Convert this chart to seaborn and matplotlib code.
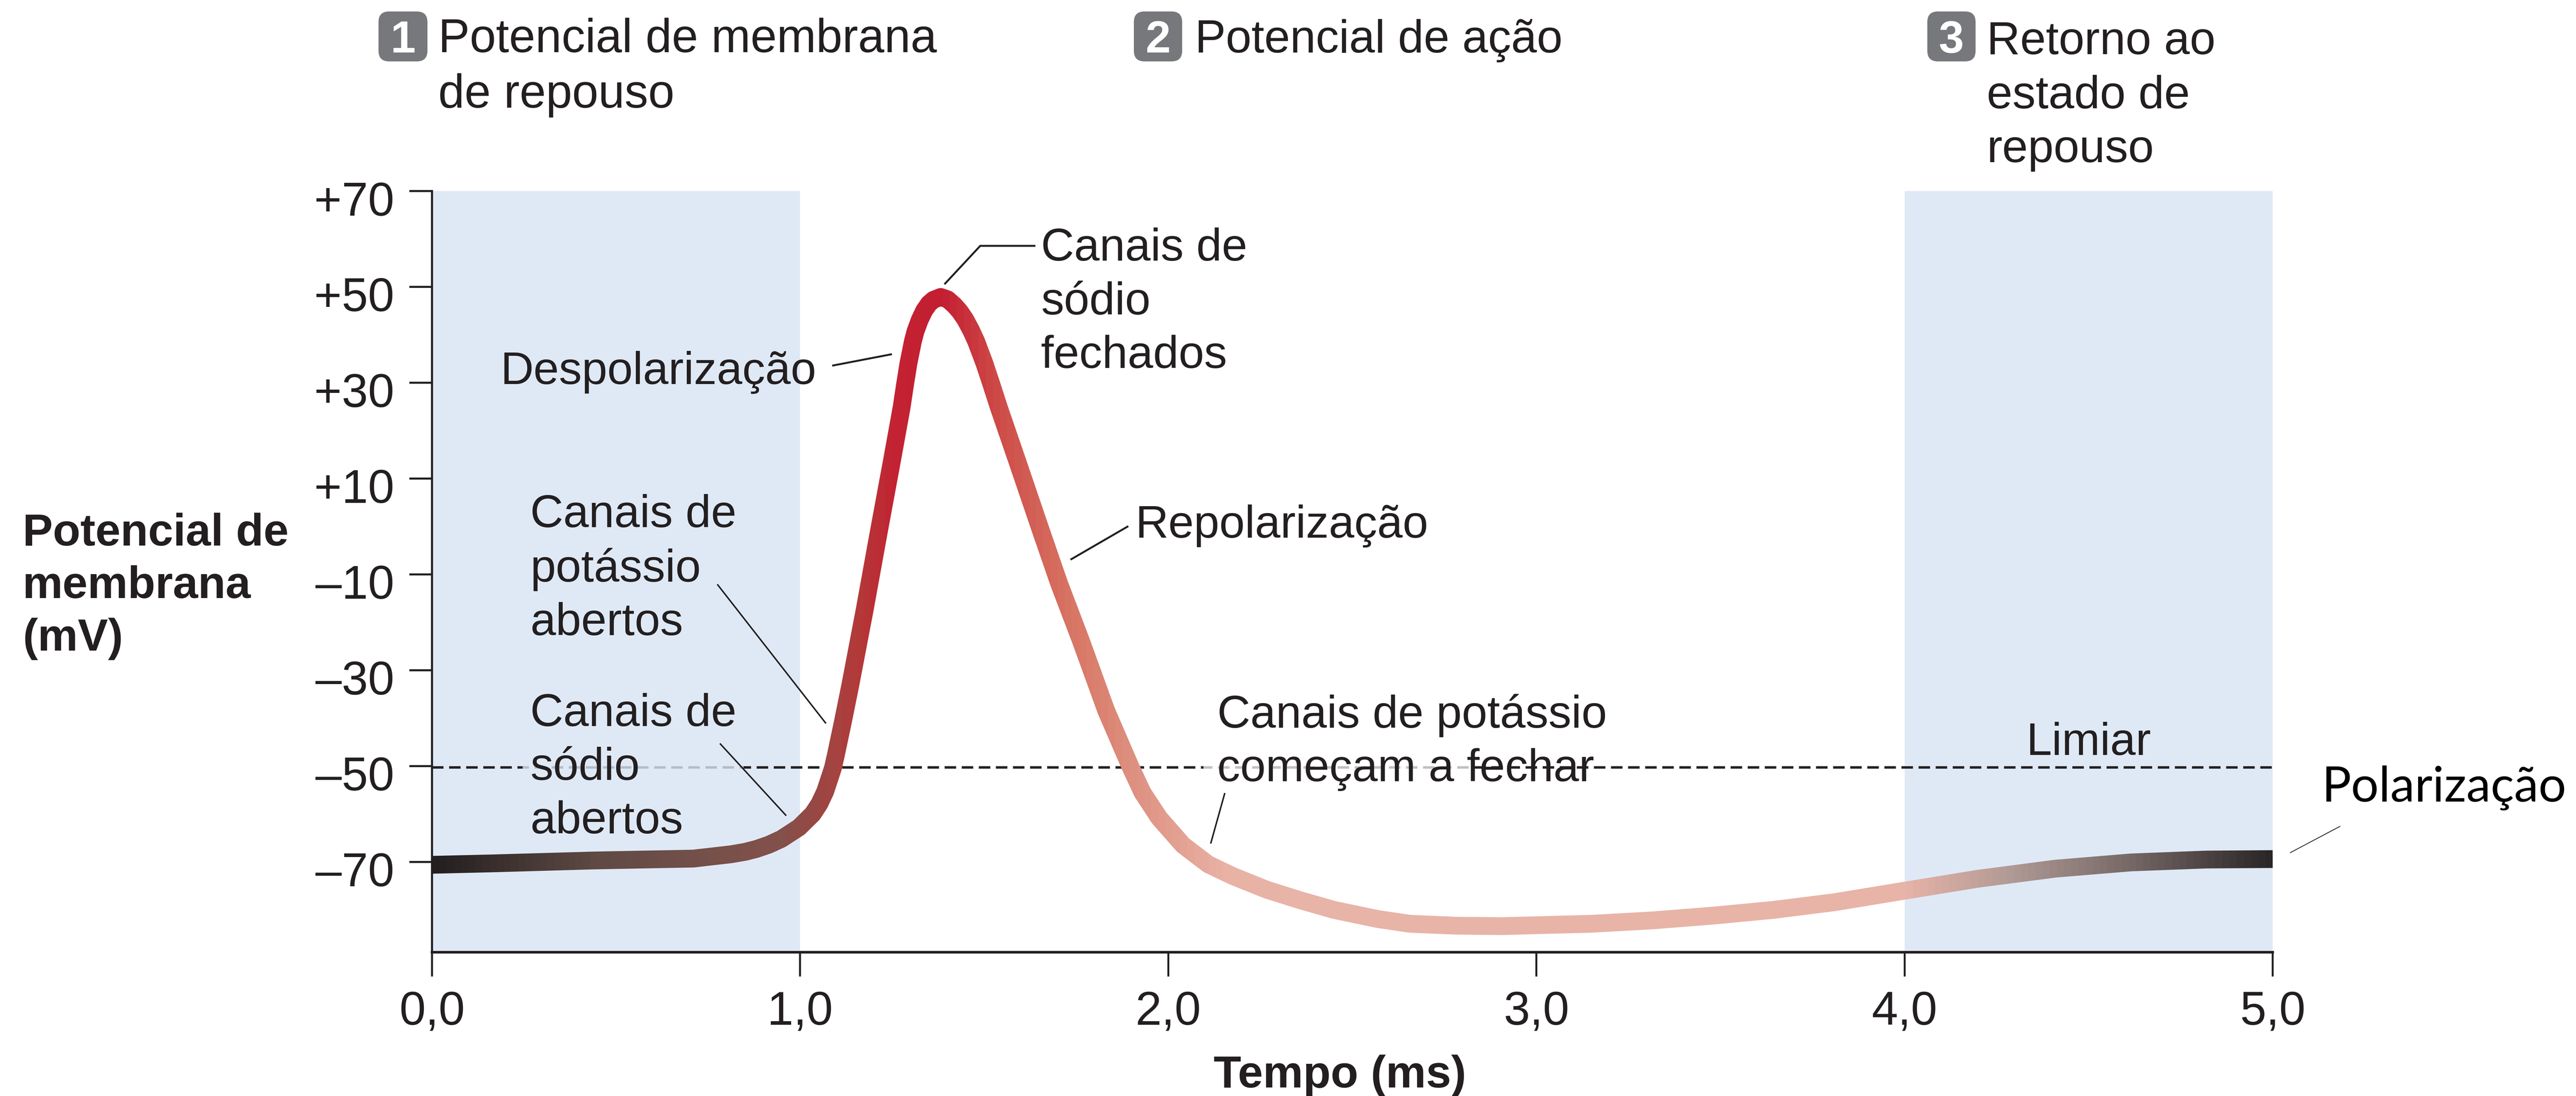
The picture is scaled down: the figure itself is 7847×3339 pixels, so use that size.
import numpy as np
import matplotlib
matplotlib.use("Agg")
import matplotlib.pyplot as plt
import seaborn as sns
from matplotlib.colors import LinearSegmentedColormap
from matplotlib.lines import Line2D
from matplotlib.patches import FancyBboxPatch, Rectangle
from matplotlib.transforms import Affine2D, ScaledTranslation

# --- DATA ---
TIME_MS = [0.0, 0.164, 0.437, 0.71, 0.812, 0.85, 0.881, 0.915, 0.949, 0.997,
           1.034, 1.052, 1.068, 1.089, 1.097, 1.116, 1.136, 1.175, 1.212, 1.25,
           1.2757, 1.2847, 1.2941, 1.3061, 1.3133, 1.3248, 1.3373, 1.35, 1.362, 1.3819,
           1.4007, 1.4185, 1.4335, 1.4486, 1.4646, 1.4783, 1.5008, 1.5202, 1.5395, 1.5904,
           1.6528, 1.704, 1.762, 1.8313, 1.8988, 1.9298, 1.9751, 2.0403, 2.1086, 2.1769,
           2.2677, 2.3587, 2.4496, 2.568, 2.656, 2.78, 2.904, 3.151, 3.315, 3.48,
           3.645, 3.81, 4.0, 4.2, 4.41, 4.615, 4.82, 5.0]
POTENTIAL_MV = [-70.6, -70.3, -69.7, -69.3, -68.4, -67.9, -67.3, -66.4, -65.2, -62.8,
                -60.0, -57.9, -55.3, -50.4, -47.7, -40.8, -33.2, -17.5, -1.8, 14.0,
                24.9, 29.5, 34.0, 38.6, 40.7, 43.1, 45.1, 46.5, 47.3, 47.9,
                47.4, 46.2, 44.9, 43.2, 40.9, 38.6, 34.0, 29.5, 24.9, 13.5,
                -0.6, -12.0, -23.7, -38.4, -50.4, -55.5, -60.8, -66.5, -70.5, -73.0,
                -75.8, -78.0, -80.0, -81.9, -82.9, -83.3, -83.4, -82.9, -82.2, -81.2,
                -80.0, -78.4, -76.0, -73.5, -71.4, -70.1, -69.5, -69.4]
THRESHOLD_X = [0.0, 5.0]
THRESHOLD_Y = [-50.3, -50.3]
SHADED_SPANS = [(0.0, 1.0), (4.0, 5.0)]
X_TICKS = [0, 1, 2, 3, 4, 5]
X_LABELS = ["0,0", "1,0", "2,0", "3,0", "4,0", "5,0"]
Y_TICKS = [70, 50, 30, 10, -10, -30, -50, -70]
Y_LABELS = ["+70", "+50", "+30", "+10", "–10", "–30", "–50", "–70"]

# --- STYLE ---
W, H, DPI = 7847, 3339, 300
INK = "#231f20"
SHADE = "#dfe9f6"
BADGE = "#77787b"
SIZE = 34.5
NOTE_SIZE = 33.5
BOLD_SIZE = 33
# colour along the curve, position is fraction of the time axis
GRADIENT = LinearSegmentedColormap.from_list("pa", [
    (0.0, "#231f20"), (0.087, "#5f4a44"), (0.142, "#74504a"), (0.19, "#85504a"),
    (0.22, "#a84240"), (0.234, "#b63637"), (0.25, "#c32332"), (0.276, "#c41e33"),
    (0.31, "#cf504a"), (0.35, "#d97867"), (0.38, "#de9080"), (0.43, "#e8b2a5"),
    (0.46, "#e8b4a8"), (0.80, "#e8b4a8"), (0.86, "#b09a95"), (0.92, "#7a6c6a"),
    (1.0, "#2b2627")])


def recolor(img, dpi):
    # keep the alpha of the drawn stroke, paint rgb by column
    out = img.copy()
    out[..., :3] = GRADIENT(np.linspace(0, 1, img.shape[1]))[:, :3][None, :, :]
    return out, 0, 0


sns.set_theme(style="ticks")
plt.rcParams["font.family"] = ["Liberation Sans"]
plt.rcParams["text.color"] = INK

fig = plt.figure(figsize=((W + 0.01) / DPI, (H + 0.01) / DPI), dpi=DPI, facecolor="white")
ax = fig.add_axes([1316 / W, 1 - 2901 / H, 5607 / W, 2319 / H], facecolor="white")
# reference pixels, y going down
PX = Affine2D().scale(1, -1).translate(0, H)

for x0, x1 in SHADED_SPANS:
    ax.axvspan(x0, x1, color=SHADE, lw=0, zorder=0)

sns.lineplot(x=THRESHOLD_X, y=THRESHOLD_Y, ax=ax, color=INK, linewidth=1.8,
             linestyle=(0, (4.67, 2.27)), errorbar=None, zorder=1)

# the faded bit of the dashes behind the labels
ax.add_patch(Rectangle((1592, 2326), 673, 28, transform=PX, color=SHADE, alpha=0.78,
                       lw=0, zorder=1.5, clip_on=False))
ax.add_patch(Rectangle((3666, 2326), 814, 28, transform=PX, color="white", alpha=0.72,
                       lw=0, zorder=1.5, clip_on=False))

sns.lineplot(x=TIME_MS, y=POTENTIAL_MV, ax=ax, color=INK, linewidth=13,
             solid_capstyle="butt", solid_joinstyle="round", errorbar=None, zorder=2)
ax.lines[-1].set_agg_filter(recolor)

ax.set_xlim(0, 5)
ax.set_ylim(-88.84, 70)
ax.set_xticks(X_TICKS, X_LABELS)
ax.set_yticks(Y_TICKS, Y_LABELS)
ax.tick_params(axis="y", length=16.6, width=1.5, pad=11, color=INK, labelsize=SIZE, labelcolor=INK)
ax.tick_params(axis="x", length=17.8, width=1.4, pad=10, color=INK, labelsize=SIZE, labelcolor=INK)
sns.despine(ax=ax)
ax.spines["left"].set_linewidth(1.5)
ax.spines["bottom"].set_linewidth(1.9)
ax.spines["left"].set_color(INK)
ax.spines["bottom"].set_color(INK)

# y labels sit a little below their ticks
shift = ScaledTranslation(0, -22 / DPI, fig.dpi_scale_trans)
for lab in ax.get_yticklabels():
    lab.set_transform(lab.get_transform() + shift)

ax.set_xlabel("Tempo (ms)", fontsize=BOLD_SIZE, fontweight="bold", color=INK, ha="center", va="baseline")
ax.xaxis.set_label_coords(4082, 3313, transform=PX)
ax.set_ylabel("Potencial de\nmembrana\n(mV)", fontsize=BOLD_SIZE, fontweight="bold", color=INK,
              rotation=0, ha="left", va="baseline", linespacing=1.31)
ax.yaxis.set_label_coords(69, 1951, transform=PX)


def label(x, y, text, **kw):
    kw.setdefault("fontsize", NOTE_SIZE)
    kw.setdefault("linespacing", 1.33)
    fig.text(x, y, text, transform=PX, ha=kw.pop("ha", "left"), va="baseline", **kw)


def leader(xs, ys, lw=1.4, color=INK):
    fig.add_artist(Line2D(xs, ys, transform=PX, color=color, lw=lw, solid_capstyle="butt"))


def badge(x0, x1, num):
    fig.add_artist(FancyBboxPatch((x0 + 32, 35 + 32), x1 - x0 - 64, 152 - 64, transform=PX,
                                  boxstyle="round,pad=32,rounding_size=32",
                                  fc=BADGE, ec="none", mutation_scale=1))
    label((x0 + x1) / 2, 160, num, color="white", fontweight="bold", ha="center", fontsize=33)


badge(1153, 1302, "1")
badge(3454, 3601, "2")
badge(5871, 6018, "3")
label(1335, 328, "Potencial de membrana\nde repouso", fontsize=SIZE)
label(3640, 160, "Potencial de ação", fontsize=33.8)
label(6052, 494, "Retorno ao\nestado de\nrepouso", fontsize=33.8)
label(1525, 1170, "Despolarização")
label(1615, 1935, "Canais de\npotássio\nabertos")
label(1615, 2539, "Canais de\nsódio\nabertos")
label(3171, 1121, "Canais de\nsódio\nfechados")
label(3458, 1638, "Repolarização")
label(3708, 2380, "Canais de potássio\ncomeçam a fechar")
label(6172, 2300, "Limiar")
label(7072, 2442, "Polarização", family=["Lato"], color="black", fontsize=35.8)

leader([2535, 2717], [1114, 1079])
leader([2877, 2986, 3154], [866, 749, 749])
leader([3261, 3437], [1705, 1603])
leader([2185, 2516], [1780, 2204], lw=1.1)
leader([2193, 2395], [2265, 2485], lw=1.1)
leader([3731, 3688], [2416, 2570], lw=1.1)
leader([7129, 6976], [2517, 2598], lw=0.5, color="black")

fig.savefig("out.png", dpi=DPI)
